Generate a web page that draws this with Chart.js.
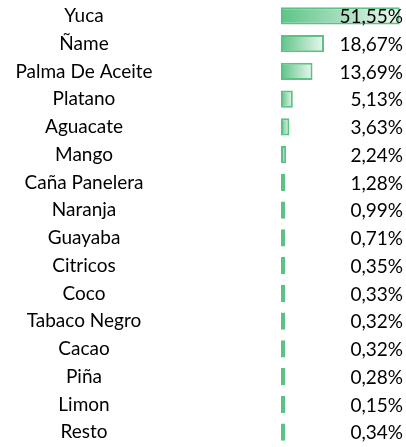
<!DOCTYPE html>
<html>
<head>
<meta charset="utf-8">
<script src="https://cdn.jsdelivr.net/npm/chart.js@4"></script>
<style>
  html, body { margin: 0; padding: 0; background: #fff; }
  #wrap { width: 406px; height: 447px; position: relative; }
</style>
</head>
<body>
<div id="wrap"><canvas id="chart"></canvas></div>
<script>
// Participación por cultivo (%)
const cultivos = ['Yuca', 'Ñame', 'Palma De Aceite', 'Platano', 'Aguacate', 'Mango', 'Caña Panelera',
    'Naranja', 'Guayaba', 'Citricos', 'Coco', 'Tabaco Negro', 'Cacao', 'Piña', 'Limon', 'Resto'];
const participacion = [51.55, 18.67, 13.69, 5.13, 3.63, 2.24, 1.28, 0.99, 0.71, 0.35, 0.33, 0.32, 0.32, 0.28, 0.15, 0.34];

const FONT = 'Lato';
const FONT_SIZE = 19;
const AXIS_WIDTH = 281;   // where bars start
const LABEL_CENTER = 84;  // centre of the category labels

// measure the widest label so the centred labels land where we want them
const mctx = document.createElement('canvas').getContext('2d');
mctx.font = `${FONT_SIZE}px ${FONT}`;
const widest = Math.max(...cultivos.map(c => mctx.measureText(c).width));

const fmt = v => v.toFixed(2).replace('.', ',') + '%';

// gradient from the bar's base to its tip
function barFill(ctx) {
    const chart = ctx.chart;
    const x = chart.scales.x;
    if (!x || !ctx.parsed) return '#5ec487';
    const x0 = x.getPixelForValue(0);
    const x1 = Math.max(x.getPixelForValue(ctx.parsed.x), x0 + 4);
    if (!Number.isFinite(x0) || !Number.isFinite(x1)) return '#5ec487';
    const g = chart.ctx.createLinearGradient(x0, 0, x1, 0);
    g.addColorStop(0, '#5ec487');
    g.addColorStop(1, '#eaf7ef');
    return g;
}

const valueLabels = {
    id: 'valueLabels',
    afterDatasetsDraw(chart) {
        const meta = chart.getDatasetMeta(0);
        const c = chart.ctx;
        c.save();
        c.font = `${FONT_SIZE}px ${FONT}`;
        c.fillStyle = '#000';
        c.textAlign = 'right';
        c.textBaseline = 'middle';
        meta.data.forEach((bar, i) => {
            c.fillText(fmt(participacion[i]), chart.width - 3, bar.y + 1);
        });
        c.restore();
    }
};

new Chart(document.getElementById('chart'), {
    type: 'bar',
    data: {
        labels: cultivos,
        datasets: [{
            data: participacion,
            backgroundColor: barFill,
            borderColor: '#5cc184',
            borderWidth: 2,
            borderSkipped: false,
            minBarLength: 4,
            categoryPercentage: 1,
            barPercentage: 0.63
        }]
    },
    options: {
        indexAxis: 'y',
        responsive: true,
        maintainAspectRatio: false,
        animation: false,
        layout: { padding: { top: 2, right: 3, bottom: 1, left: 0 } },
        plugins: {
            legend: { display: false },
            tooltip: { enabled: false }
        },
        scales: {
            x: {
                display: false,
                min: 0,
                max: 53
            },
            y: {
                grid: { display: false, drawTicks: false },
                border: { display: false },
                ticks: {
                    color: '#000',
                    font: { family: FONT, size: FONT_SIZE },
                    crossAlign: 'center',
                    padding: AXIS_WIDTH - LABEL_CENTER - widest / 2
                },
                afterFit(scale) {
                    // the big tick padding is only meant to push labels sideways
                    scale.width = AXIS_WIDTH;
                    scale.paddingTop = 0;
                    scale.paddingBottom = 0;
                }
            }
        }
    },
    plugins: [valueLabels]
});
</script>
</body>
</html>
